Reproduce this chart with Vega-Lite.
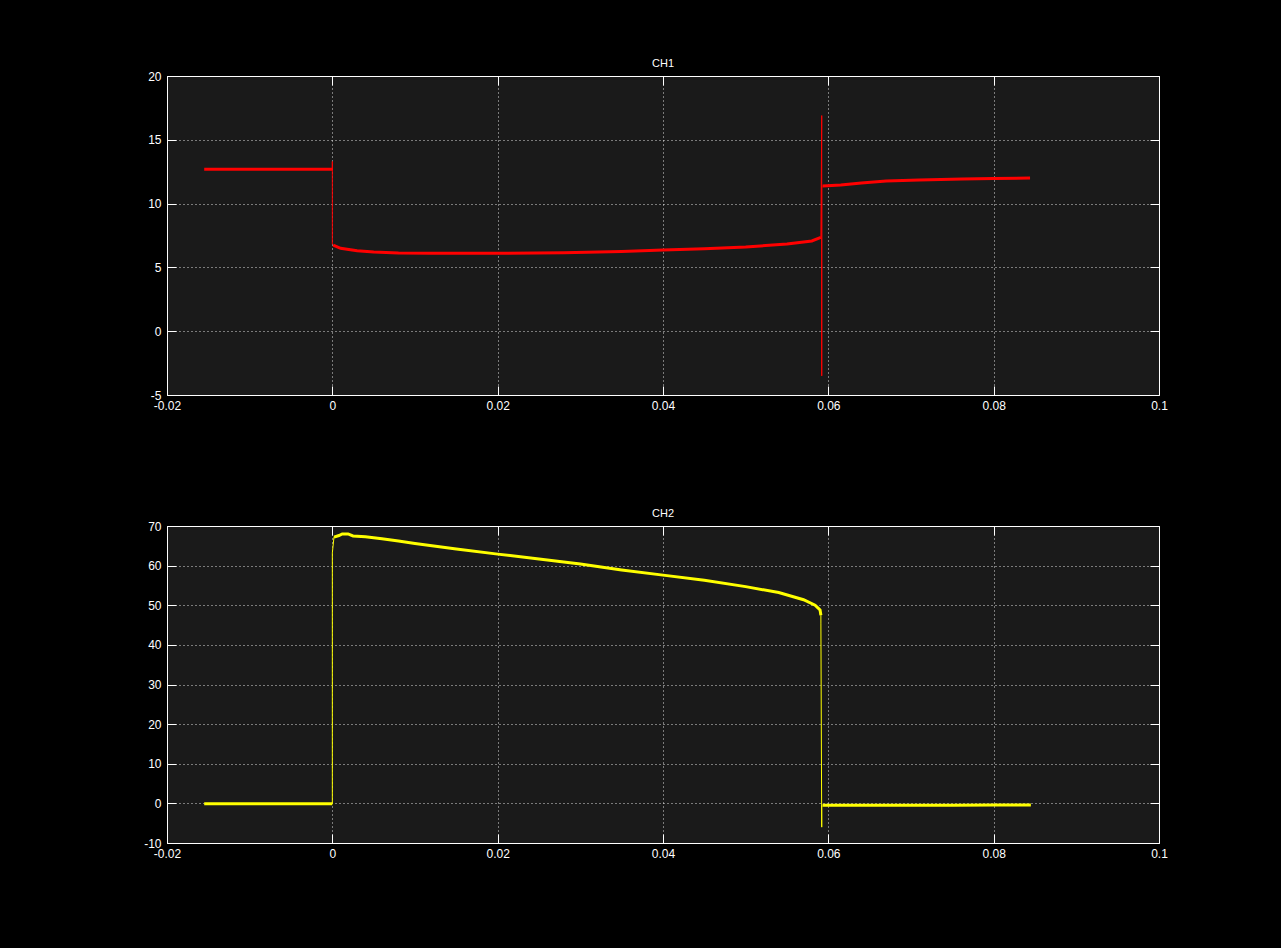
{
  "$schema": "https://vega.github.io/schema/vega-lite/v6.json",
  "background": "#000000",
  "padding": {"left": 143, "top": 57, "right": 115, "bottom": 90},
  "spacing": 95,
  "config": {
    "font": "Liberation Sans",
    "view": {"fill": "#1a1a1a", "stroke": "#ffffff", "strokeWidth": 1},
    "title": {"color": "#ffffff", "fontSize": 11, "fontWeight": "normal", "offset": 1, "font": "Liberation Sans"},
    "axis": {
      "labelColor": "#ffffff", "labelFontSize": 12, "labelFont": "Liberation Sans",
      "domain": false, "tickColor": "#ffffff", "tickSize": -9, "tickWidth": 1,
      "labelPadding": 14, "gridColor": "#ffffff", "gridDash": [1, 3], "gridOpacity": 0.85,
      "title": null, "labelExpr": "toString(datum.value)", "labelFlush": false
    }
  },
  "datasets": {
    "ch1": [
      {"seg": "a", "i": 1, "t": -0.0155, "v": 12.7, "w": 3},
      {"seg": "a", "i": 2, "t": 0.0, "v": 12.7, "w": 3},
      {"seg": "b", "i": 3, "t": 0.0, "v": 12.7, "w": 1},
      {"seg": "b", "i": 4, "t": 0.0, "v": 13.3, "w": 1},
      {"seg": "b", "i": 5, "t": 0.0, "v": 6.8, "w": 1},
      {"seg": "c", "i": 6, "t": 0.0001, "v": 6.75, "w": 3},
      {"seg": "c", "i": 7, "t": 0.001, "v": 6.5, "w": 3},
      {"seg": "c", "i": 8, "t": 0.003, "v": 6.3, "w": 3},
      {"seg": "c", "i": 9, "t": 0.005, "v": 6.2, "w": 3},
      {"seg": "c", "i": 10, "t": 0.008, "v": 6.12, "w": 3},
      {"seg": "c", "i": 11, "t": 0.012, "v": 6.1, "w": 3},
      {"seg": "c", "i": 12, "t": 0.02, "v": 6.1, "w": 3},
      {"seg": "c", "i": 13, "t": 0.028, "v": 6.15, "w": 3},
      {"seg": "c", "i": 14, "t": 0.035, "v": 6.25, "w": 3},
      {"seg": "c", "i": 15, "t": 0.04, "v": 6.36, "w": 3},
      {"seg": "c", "i": 16, "t": 0.045, "v": 6.47, "w": 3},
      {"seg": "c", "i": 17, "t": 0.05, "v": 6.6, "w": 3},
      {"seg": "c", "i": 18, "t": 0.055, "v": 6.83, "w": 3},
      {"seg": "c", "i": 19, "t": 0.058, "v": 7.07, "w": 3},
      {"seg": "c", "i": 20, "t": 0.0591, "v": 7.35, "w": 3},
      {"seg": "d", "i": 21, "t": 0.0591, "v": 7.35, "w": 1},
      {"seg": "d", "i": 22, "t": 0.0592, "v": 16.9, "w": 1},
      {"seg": "d", "i": 23, "t": 0.0592, "v": -3.5, "w": 1},
      {"seg": "d", "i": 24, "t": 0.0592, "v": 11.4, "w": 1},
      {"seg": "e", "i": 25, "t": 0.0593, "v": 11.38, "w": 3},
      {"seg": "e", "i": 26, "t": 0.0615, "v": 11.45, "w": 3},
      {"seg": "e", "i": 27, "t": 0.064, "v": 11.62, "w": 3},
      {"seg": "e", "i": 28, "t": 0.067, "v": 11.77, "w": 3},
      {"seg": "e", "i": 29, "t": 0.071, "v": 11.85, "w": 3},
      {"seg": "e", "i": 30, "t": 0.0762, "v": 11.92, "w": 3},
      {"seg": "e", "i": 31, "t": 0.08, "v": 11.97, "w": 3},
      {"seg": "e", "i": 32, "t": 0.0844, "v": 12.0, "w": 3}
    ],
    "ch2": [
      {"seg": "a", "i": 1, "t": -0.0155, "v": -0.1, "w": 3},
      {"seg": "a", "i": 2, "t": 0.0, "v": -0.1, "w": 3},
      {"seg": "b", "i": 3, "t": 0.0, "v": -0.1, "w": 1},
      {"seg": "b", "i": 4, "t": 0.0, "v": 63.2, "w": 1},
      {"seg": "b", "i": 5, "t": 0.0002, "v": 67.2, "w": 1},
      {"seg": "c", "i": 6, "t": 0.0002, "v": 67.2, "w": 3},
      {"seg": "c", "i": 7, "t": 0.0008, "v": 67.6, "w": 3},
      {"seg": "c", "i": 8, "t": 0.0012, "v": 68.0, "w": 3},
      {"seg": "c", "i": 9, "t": 0.0019, "v": 68.0, "w": 3},
      {"seg": "c", "i": 10, "t": 0.0025, "v": 67.5, "w": 3},
      {"seg": "c", "i": 11, "t": 0.004, "v": 67.3, "w": 3},
      {"seg": "c", "i": 12, "t": 0.006, "v": 66.8, "w": 3},
      {"seg": "c", "i": 13, "t": 0.008, "v": 66.2, "w": 3},
      {"seg": "c", "i": 14, "t": 0.01, "v": 65.6, "w": 3},
      {"seg": "c", "i": 15, "t": 0.015, "v": 64.2, "w": 3},
      {"seg": "c", "i": 16, "t": 0.02, "v": 62.9, "w": 3},
      {"seg": "c", "i": 17, "t": 0.025, "v": 61.7, "w": 3},
      {"seg": "c", "i": 18, "t": 0.03, "v": 60.4, "w": 3},
      {"seg": "c", "i": 19, "t": 0.035, "v": 58.9, "w": 3},
      {"seg": "c", "i": 20, "t": 0.04, "v": 57.6, "w": 3},
      {"seg": "c", "i": 21, "t": 0.045, "v": 56.3, "w": 3},
      {"seg": "c", "i": 22, "t": 0.05, "v": 54.7, "w": 3},
      {"seg": "c", "i": 23, "t": 0.054, "v": 53.2, "w": 3},
      {"seg": "c", "i": 24, "t": 0.057, "v": 51.4, "w": 3},
      {"seg": "c", "i": 25, "t": 0.0584, "v": 50.0, "w": 3},
      {"seg": "c", "i": 26, "t": 0.059, "v": 48.8, "w": 3},
      {"seg": "c", "i": 27, "t": 0.0591, "v": 47.5, "w": 3},
      {"seg": "d", "i": 28, "t": 0.0591, "v": 47.5, "w": 1},
      {"seg": "d", "i": 29, "t": 0.0591, "v": 45.5, "w": 1},
      {"seg": "d", "i": 30, "t": 0.0592, "v": -6.0, "w": 1},
      {"seg": "d", "i": 31, "t": 0.0592, "v": -0.5, "w": 1},
      {"seg": "e", "i": 32, "t": 0.0593, "v": -0.5, "w": 3},
      {"seg": "e", "i": 33, "t": 0.065, "v": -0.5, "w": 3},
      {"seg": "e", "i": 34, "t": 0.07, "v": -0.45, "w": 3},
      {"seg": "e", "i": 35, "t": 0.075, "v": -0.45, "w": 3},
      {"seg": "e", "i": 36, "t": 0.08, "v": -0.4, "w": 3},
      {"seg": "e", "i": 37, "t": 0.0845, "v": -0.4, "w": 3}
    ]
  },
  "vconcat": [
    {
      "title": "CH1",
      "width": 992,
      "height": 319,
      "data": {"name": "ch1"},
      "layer": [
        {
          "mark": {"type": "line", "color": "#ff0000", "strokeCap": "butt", "clip": true},
          "encoding": {
            "x": {"field": "t", "type": "quantitative", "scale": {"domain": [-0.02, 0.1], "nice": false, "zero": false},
                  "axis": {"orient": "bottom", "values": [-0.02, 0, 0.02, 0.04, 0.06, 0.08, 0.1]}},
            "y": {"field": "v", "type": "quantitative", "scale": {"domain": [-5, 20], "nice": false, "zero": false},
                  "axis": {"orient": "left", "values": [-5, 0, 5, 10, 15, 20], "labelPadding": 15}},
            "detail": {"field": "seg"},
            "order": {"field": "i", "type": "quantitative"},
            "strokeWidth": {"field": "w", "type": "quantitative", "scale": null}
          }
        },
        {
          "mark": {"type": "line", "opacity": 0},
          "encoding": {
            "x": {"field": "t", "type": "quantitative",
                  "axis": {"orient": "top", "values": [-0.02, 0, 0.02, 0.04, 0.06, 0.08, 0.1], "labels": false, "grid": false}},
            "y": {"field": "v", "type": "quantitative",
                  "axis": {"orient": "right", "values": [-5, 0, 5, 10, 15, 20], "labels": false, "grid": false}},
            "detail": {"field": "seg"},
            "order": {"field": "i", "type": "quantitative"}
          }
        }
      ],
      "resolve": {"axis": {"x": "independent", "y": "independent"}}
    },
    {
      "title": "CH2",
      "width": 992,
      "height": 317,
      "data": {"name": "ch2"},
      "layer": [
        {
          "mark": {"type": "line", "color": "#ffff00", "strokeCap": "butt", "clip": true},
          "encoding": {
            "x": {"field": "t", "type": "quantitative", "scale": {"domain": [-0.02, 0.1], "nice": false, "zero": false},
                  "axis": {"orient": "bottom", "values": [-0.02, 0, 0.02, 0.04, 0.06, 0.08, 0.1]}},
            "y": {"field": "v", "type": "quantitative", "scale": {"domain": [-10, 70], "nice": false, "zero": false},
                  "axis": {"orient": "left", "values": [-10, 0, 10, 20, 30, 40, 50, 60, 70], "labelPadding": 15}},
            "detail": {"field": "seg"},
            "order": {"field": "i", "type": "quantitative"},
            "strokeWidth": {"field": "w", "type": "quantitative", "scale": null}
          }
        },
        {
          "mark": {"type": "line", "opacity": 0},
          "encoding": {
            "x": {"field": "t", "type": "quantitative",
                  "axis": {"orient": "top", "values": [-0.02, 0, 0.02, 0.04, 0.06, 0.08, 0.1], "labels": false, "grid": false}},
            "y": {"field": "v", "type": "quantitative",
                  "axis": {"orient": "right", "values": [-10, 0, 10, 20, 30, 40, 50, 60, 70], "labels": false, "grid": false}},
            "detail": {"field": "seg"},
            "order": {"field": "i", "type": "quantitative"}
          }
        }
      ],
      "resolve": {"axis": {"x": "independent", "y": "independent"}}
    }
  ]
}
